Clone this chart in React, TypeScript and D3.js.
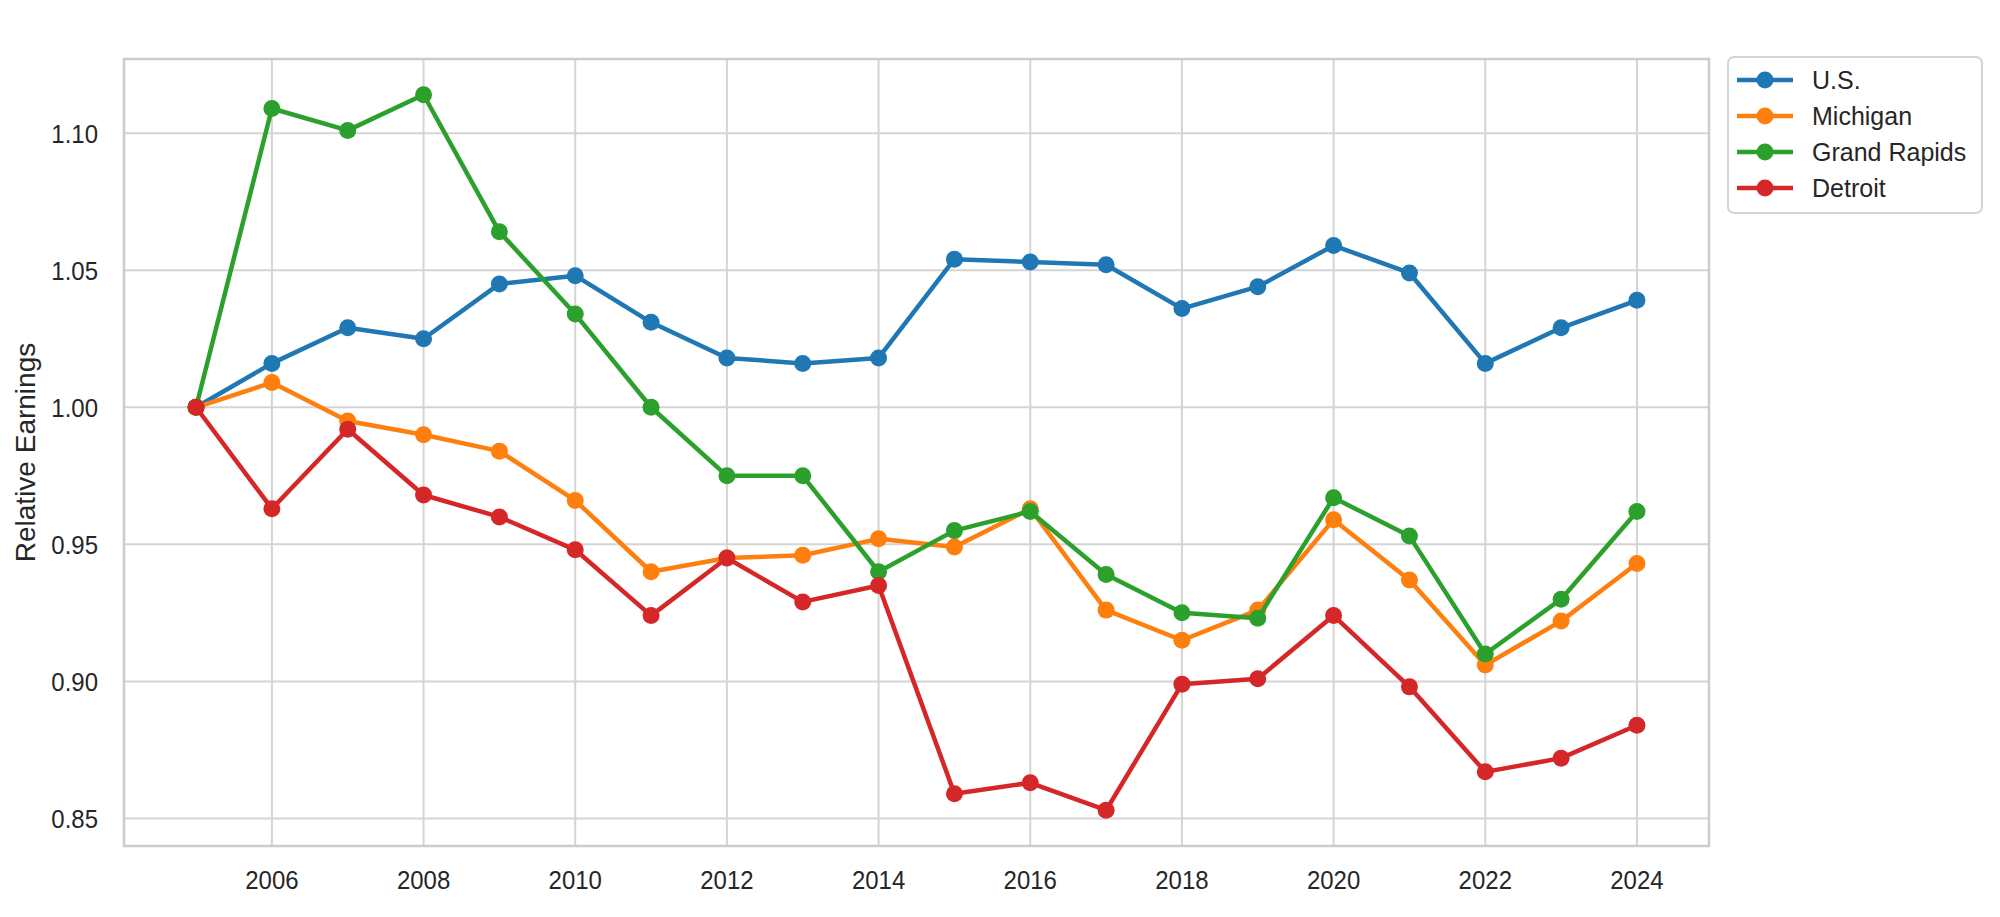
import React from "react";
import * as d3 from "d3";

const years = [2005, 2006, 2007, 2008, 2009, 2010, 2011, 2012, 2013, 2014, 2015, 2016, 2017, 2018, 2019, 2020, 2021, 2022, 2023, 2024];
const usValues = [1.000, 1.016, 1.029, 1.025, 1.045, 1.048, 1.031, 1.018, 1.016, 1.018, 1.054, 1.053, 1.052, 1.036, 1.044, 1.059, 1.049, 1.016, 1.029, 1.039];
const michiganValues = [1.000, 1.009, 0.995, 0.990, 0.984, 0.966, 0.940, 0.945, 0.946, 0.952, 0.949, 0.963, 0.926, 0.915, 0.926, 0.959, 0.937, 0.906, 0.922, 0.943];
const grandRapidsValues = [1.000, 1.109, 1.101, 1.114, 1.064, 1.034, 1.000, 0.975, 0.975, 0.940, 0.955, 0.962, 0.939, 0.925, 0.923, 0.967, 0.953, 0.910, 0.930, 0.962];
const detroitValues = [1.000, 0.963, 0.992, 0.968, 0.960, 0.948, 0.924, 0.945, 0.929, 0.935, 0.859, 0.863, 0.853, 0.899, 0.901, 0.924, 0.898, 0.867, 0.872, 0.884];
const seriesNames = ["U.S.", "Michigan", "Grand Rapids", "Detroit"];
const seriesColors = ["#1f77b4", "#ff7f0e", "#2ca02c", "#d62728"];
const xTicks = [2006, 2008, 2010, 2012, 2014, 2016, 2018, 2020, 2022, 2024];
const yTicks = [0.85, 0.90, 0.95, 1.00, 1.05, 1.10];
const yLabel = "Relative Earnings";

const W = 2000;
const H = 917;
const plot = { left: 124, right: 1709, top: 59, bottom: 846 };
const FONT = "'Liberation Sans', Arial, sans-serif";
const TEXT = "#262626";
const GRID = "#d4d4d4";

export default function App() {
  const allSeries = [usValues, michiganValues, grandRapidsValues, detroitValues];
  const xMin = d3.min(years)!;
  const xMax = d3.max(years)!;
  const xPad = (xMax - xMin) * 0.05;
  const allVals = allSeries.flat();
  const yMin = d3.min(allVals)!;
  const yMax = d3.max(allVals)!;
  const yPad = (yMax - yMin) * 0.05;

  const x = d3.scaleLinear().domain([xMin - xPad, xMax + xPad]).range([plot.left, plot.right]);
  const y = d3.scaleLinear().domain([yMin - yPad, yMax + yPad]).range([plot.bottom, plot.top]);
  const line = d3
    .line<number>()
    .x((_, i) => x(years[i]))
    .y((d) => y(d));

  const legend = { x: 1728, y: 57, w: 254, h: 156, rowY0: 80, rowGap: 36 };

  return (
    <svg
      width={W}
      height={H}
      style={{ position: "absolute", left: 0, top: 0, background: "#fff" }}
      fontFamily={FONT}
    >
      <rect x={0} y={0} width={W} height={H} fill="#fff" />
      {/* grid */}
      {xTicks.map((t) => (
        <line key={"gx" + t} x1={x(t)} x2={x(t)} y1={plot.top} y2={plot.bottom} stroke={GRID} strokeWidth={2} />
      ))}
      {yTicks.map((t) => (
        <line key={"gy" + t} x1={plot.left} x2={plot.right} y1={y(t)} y2={y(t)} stroke={GRID} strokeWidth={2} />
      ))}
      {/* spines */}
      <rect
        x={plot.left}
        y={plot.top}
        width={plot.right - plot.left}
        height={plot.bottom - plot.top}
        fill="none"
        stroke="#cccccc"
        strokeWidth={2.5}
      />
      {/* tick labels */}
      {xTicks.map((t) => (
        <text
          key={"tx" + t}
          transform={`translate(${x(t)}, 880) scale(1, 1.1)`}
          textAnchor="middle"
          dominantBaseline="central"
          fontSize={24}
          fill={TEXT}
        >
          {t}
        </text>
      ))}
      {yTicks.map((t) => (
        <text
          key={"ty" + t}
          transform={`translate(98, ${y(t)}) scale(1, 1.1)`}
          textAnchor="end"
          dominantBaseline="central"
          fontSize={24}
          fill={TEXT}
        >
          {t.toFixed(2)}
        </text>
      ))}
      <text
        transform={`translate(25, ${(plot.top + plot.bottom) / 2}) rotate(-90)`}
        textAnchor="middle"
        dominantBaseline="central"
        fontSize={28}
        fill={TEXT}
      >
        {yLabel}
      </text>
      {/* series */}
      {allSeries.map((vals, si) => (
        <g key={"s" + si}>
          <path d={line(vals) || ""} fill="none" stroke={seriesColors[si]} strokeWidth={4.5} strokeLinejoin="round" strokeLinecap="round" />
          {vals.map((v, i) => (
            <circle key={i} cx={x(years[i])} cy={y(v)} r={8.5} fill={seriesColors[si]} />
          ))}
        </g>
      ))}
      {/* legend */}
      <rect
        x={legend.x}
        y={legend.y}
        width={legend.w}
        height={legend.h}
        rx={6}
        ry={6}
        fill="#fff"
        stroke="#d4d4d4"
        strokeWidth={2}
      />
      {seriesNames.map((name, i) => {
        const cy = legend.rowY0 + i * legend.rowGap;
        return (
          <g key={"l" + i}>
            <line x1={1737} x2={1793} y1={cy} y2={cy} stroke={seriesColors[i]} strokeWidth={4.5} />
            <circle cx={1765} cy={cy} r={8.5} fill={seriesColors[i]} />
            <text x={1812} y={cy} dominantBaseline="central" fontSize={25} fill={TEXT}>
              {name}
            </text>
          </g>
        );
      })}
    </svg>
  );
}
